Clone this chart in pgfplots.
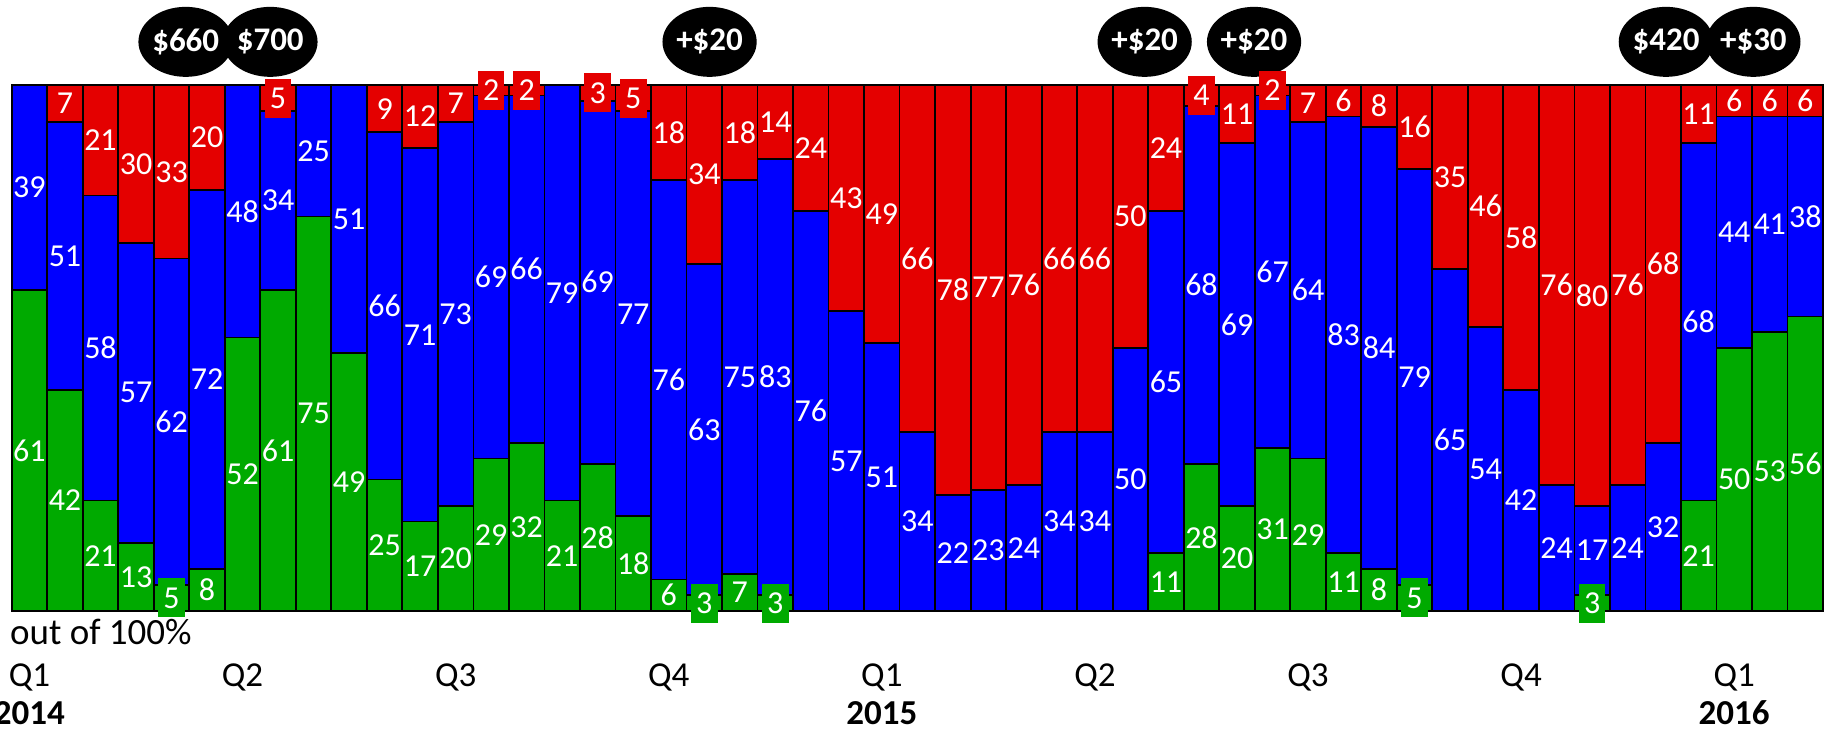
\documentclass[border=0pt]{standalone}
\usepackage{pgfplots}
\usepackage{pgfplotstable}
\pgfplotsset{compat=1.18}
\usepackage{fontspec}
\setmainfont{Carlito}
\usetikzlibrary{shapes.geometric}
\definecolor{cred}{RGB}{228,0,0}
\definecolor{cblue}{RGB}{0,0,255}
\definecolor{cgreen}{RGB}{0,170,0}

\pgfplotstableread{
x g b r
0 61 39 0
1 42 51 7
2 21 58 21
3 13 57 30
4 5 62 33
5 8 72 20
6 52 48 0
7 61 34 5
8 75 25 0
9 49 51 0
10 25 66 9
11 17 71 12
12 20 73 7
13 29 69 2
14 32 66 2
15 21 79 0
16 28 69 3
17 18 77 5
18 6 76 18
19 3 63 34
20 7 75 18
21 3 83 14
22 0 76 24
23 0 57 43
24 0 51 49
25 0 34 66
26 0 22 78
27 0 23 77
28 0 24 76
29 0 34 66
30 0 34 66
31 0 50 50
32 11 65 24
33 28 68 4
34 20 69 11
35 31 67 2
36 29 64 7
37 11 83 6
38 8 84 8
39 5 79 16
40 0 65 35
41 0 54 46
42 0 42 58
43 0 24 76
44 3 17 80
45 0 24 76
46 0 32 68
47 21 68 11
48 50 44 6
49 53 41 6
50 56 38 6
}\data

\pgfplotsset{
  barstyle/.style={ybar, bar width=1, bar shift=0pt, draw=black, line width=0.9pt, fill=#1},
  lbl/.style={draw=none, mark=none, nodes near coords, point meta=explicit symbolic,
    every node near coord/.append style={anchor=center, font=\fontsize{16}{19}\selectfont, text=white, inner sep=0pt}},
  boxlbl/.style={lbl, every node near coord/.append style={fill=#1, inner xsep=2.6pt, inner ysep=4.6pt, text height=10.2pt, text depth=0pt}},
}

\begin{document}
\begin{tikzpicture}
\begin{axis}[
  scale only axis, width=905.65pt, height=263pt,
  xmin=-0.5, xmax=50.5, ymin=0, ymax=100,
  clip=false,
  axis line style={draw=none},
  major tick length=0pt,
  ytick=\empty,
  xtick={0,6,...,48},
  xticklabels={Q1,Q2,Q3,Q4,Q1,Q2,Q3,Q4,Q1},
  xticklabel style={font=\fontsize{17.5}{21}\selectfont, anchor=base, yshift=-38pt},
  extra x ticks={0,24,48},
  extra x tick labels={\textbf{2014},\textbf{2015},\textbf{2016}},
  extra x tick style={xticklabel style={yshift=-19pt}},
]
\addplot[barstyle=cred] table[x=x, y expr=\thisrow{g}+\thisrow{b}+\thisrow{r}] {\data};
\addplot[barstyle=cblue] table[x=x, y expr=\thisrow{g}+\thisrow{b}] {\data};
\addplot[barstyle=cgreen] table[x=x, y=g] {\data};

\addplot[lbl, restrict expr to domain={\thisrow{g}}{6:100}] table[x=x, y expr=\thisrow{g}/2, meta=g] {\data};
\addplot[boxlbl=cgreen, restrict expr to domain={\thisrow{g}}{1:5}] table[x=x, y expr=\thisrow{g}/2, meta=g] {\data};
\addplot[lbl, restrict expr to domain={\thisrow{b}}{6:100}] table[x=x, y expr=\thisrow{g}+\thisrow{b}/2, meta=b] {\data};
\addplot[lbl, restrict expr to domain={\thisrow{r}}{6:100}] table[x=x, y expr=\thisrow{g}+\thisrow{b}+\thisrow{r}/2, meta=r] {\data};
\addplot[boxlbl=cred, restrict expr to domain={\thisrow{r}}{1:5}] table[x=x, y expr=\thisrow{g}+\thisrow{b}+\thisrow{r}/2, meta=r] {\data};

\tikzset{bubble/.style={ellipse, fill=black, minimum width=44pt, minimum height=35pt, inner sep=0pt, text=white, font=\bfseries\fontsize{16.5}{19}\selectfont}}
\node[bubble] at (axis cs:4.4,108.2) {\$660};
\node[bubble] at (axis cs:6.78,108.2) {\$700};
\node[bubble] at (axis cs:19.15,108.2) {+\$20};
\node[bubble] at (axis cs:31.4,108.2) {+\$20};
\node[bubble] at (axis cs:34.48,108.2) {+\$20};
\node[bubble] at (axis cs:46.08,108.2) {\$420};
\node[bubble] at (axis cs:48.54,108.2) {+\$30};

\node[anchor=base west, inner sep=0pt, font=\fontsize{18.5}{22}\selectfont] at ([xshift=-1pt,yshift=-16.75pt]rel axis cs:0,0) {out of 100\%};
\coordinate (SW) at (rel axis cs:0,0);
\coordinate (NE) at (rel axis cs:1,1);
\end{axis}
\pgfresetboundingbox
\path[use as bounding box] ([xshift=-5.85pt,yshift=-60pt]SW) rectangle ([xshift=6pt,yshift=42.5pt]NE);
\end{tikzpicture}
\end{document}
